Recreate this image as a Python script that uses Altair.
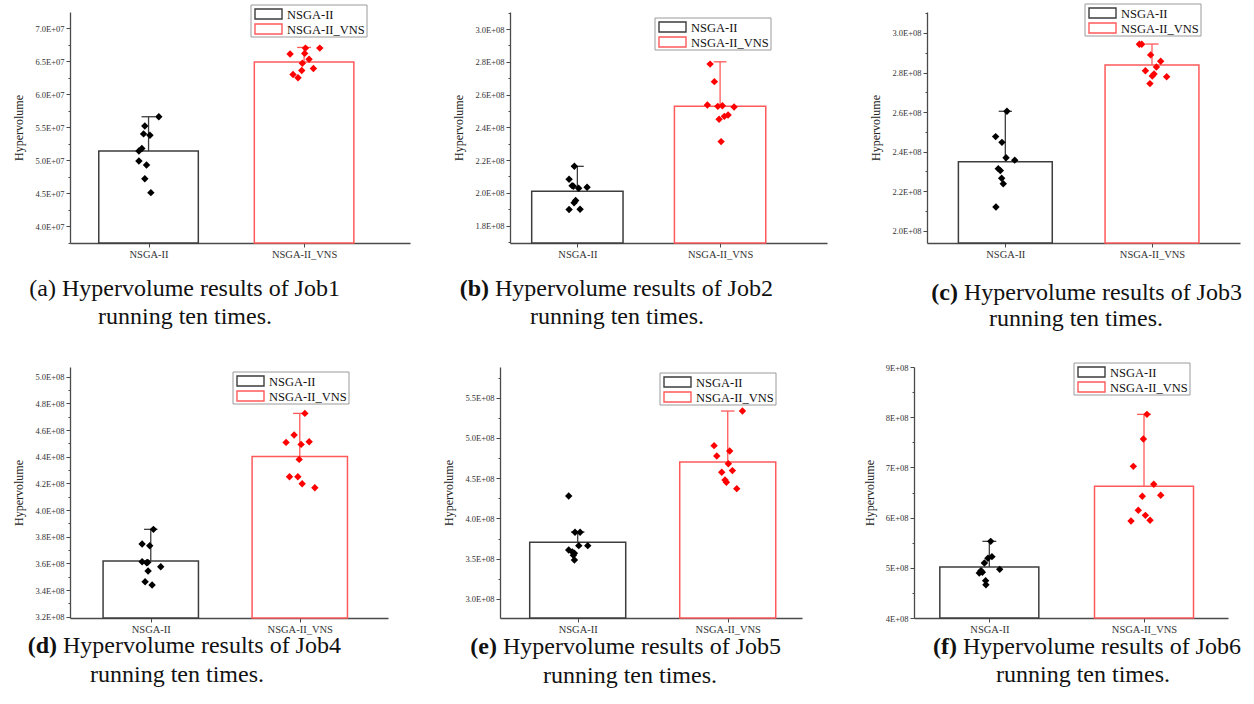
import altair as alt
import pandas as pd

GROUPS = ["NSGA-II", "NSGA-II_VNS"]
SERIF = "Liberation Serif"

# ---------------- data ----------------
# (a) Job1
a_nsga = [5.66e7, 5.52e7, 5.40e7, 5.38e7, 5.18e7, 5.14e7, 4.99e7, 4.93e7, 4.72e7, 4.51e7]
a_vns = [6.70e7, 6.70e7, 6.61e7, 6.62e7, 6.53e7, 6.47e7, 6.39e7, 6.36e7, 6.30e7, 6.25e7]
a_nsga_jit = [0.066, -0.024, -0.032, 0.009, -0.043, -0.062, -0.062, -0.013, -0.024, 0.015]
a_vns_jit = [0.101, 0.009, -0.090, 0.004, 0.032, -0.011, 0.060, -0.015, -0.071, -0.039]
a_bars = [5.14e7, 6.49e7]
a_err = [5.66e7, 6.71e7]
a_ticks = [4.0e7, 4.5e7, 5.0e7, 5.5e7, 6.0e7, 6.5e7, 7.0e7]
a_labels = ["4.0E+07", "4.5E+07", "5.0E+07", "5.5E+07", "6.0E+07", "6.5E+07", "7.0E+07"]

# (b) Job2
b_nsga = [2.162e8, 2.083e8, 2.044e8, 2.040e8, 2.028e8, 2.034e8, 1.953e8, 1.940e8, 1.898e8, 1.900e8]
b_vns = [2.786e8, 2.679e8, 2.536e8, 2.528e8, 2.532e8, 2.524e8, 2.475e8, 2.467e8, 2.449e8, 2.313e8]
b_nsga_jit = [-0.021, -0.058, -0.037, -0.028, 0.009, 0.068, -0.012, -0.023, -0.058, 0.019]
b_vns_jit = [-0.070, -0.040, -0.089, -0.016, 0.016, 0.098, 0.056, 0.030, -0.007, 0.007]
b_bars = [2.010e8, 2.528e8]
b_err = [2.162e8, 2.800e8]
b_ticks = [1.8e8, 2.0e8, 2.2e8, 2.4e8, 2.6e8, 2.8e8, 3.0e8]
b_labels = ["1.8E+08", "2.0E+08", "2.2E+08", "2.4E+08", "2.6E+08", "2.8E+08", "3.0E+08"]

# (c) Job3
c_nsga = [2.604e8, 2.476e8, 2.447e8, 2.369e8, 2.357e8, 2.314e8, 2.304e8, 2.265e8, 2.238e8, 2.120e8]
c_vns = [2.943e8, 2.943e8, 2.889e8, 2.857e8, 2.828e8, 2.809e8, 2.793e8, 2.782e8, 2.779e8, 2.744e8]
c_nsga_jit = [0.011, -0.066, -0.023, 0.005, 0.064, -0.048, -0.034, -0.025, -0.014, -0.064]
c_vns_jit = [-0.086, -0.070, -0.009, 0.059, 0.030, -0.045, 0.014, 0.002, 0.100, -0.014]
c_bars = [2.349e8, 2.838e8]
c_err = [2.604e8, 2.944e8]
c_ticks = [2.0e8, 2.2e8, 2.4e8, 2.6e8, 2.8e8, 3.0e8]
c_labels = ["2.0E+08", "2.2E+08", "2.4E+08", "2.6E+08", "2.8E+08", "3.0E+08"]

# (d) Job4
d_nsga = [3.855e8, 3.745e8, 3.7325e8, 3.6125e8, 3.6075e8, 3.575e8, 3.5425e8, 3.4625e8, 3.4375e8, 3.605e8]
d_vns = [4.725e8, 4.5625e8, 4.5075e8, 4.5125e8, 4.4925e8, 4.38e8, 4.25e8, 4.25e8, 4.1975e8, 4.1675e8]
d_nsga_jit = [0.018, -0.058, -0.007, -0.058, -0.020, 0.067, -0.018, -0.038, 0.009, -0.027]
d_vns_jit = [0.034, -0.038, -0.092, 0.063, 0.009, -0.004, -0.069, -0.013, 0.016, 0.101]
d_bars = [3.6175e8, 4.4025e8]
d_err = [3.855e8, 4.725e8]
d_ticks = [3.2e8, 3.4e8, 3.6e8, 3.8e8, 4.0e8, 4.2e8, 4.4e8, 4.6e8, 4.8e8, 5.0e8]
d_labels = ["3.2E+08", "3.4E+08", "3.6E+08", "3.8E+08", "4.0E+08", "4.2E+08", "4.4E+08",
            "4.6E+08", "4.8E+08", "5.0E+08"]

# (e) Job5
e_nsga = [4.279e8, 3.828e8, 3.828e8, 3.662e8, 3.662e8, 3.608e8, 3.584e8, 3.567e8, 3.542e8, 3.484e8]
e_vns = [5.334e8, 4.904e8, 4.838e8, 4.776e8, 4.680e8, 4.594e8, 4.573e8, 4.478e8, 4.449e8, 4.370e8]
e_nsga_jit = [-0.060, -0.018, 0.016, 0.007, 0.067, -0.060, -0.036, -0.022, -0.029, -0.022]
e_vns_jit = [0.098, -0.091, 0.013, -0.073, 0.004, 0.031, -0.040, -0.018, -0.009, 0.060]
e_bars = [3.704e8, 4.701e8]
e_err = [3.832e8, 5.334e8]
e_ticks = [3.0e8, 3.5e8, 4.0e8, 4.5e8, 5.0e8, 5.5e8]
e_labels = ["3.0E+08", "3.5E+08", "4.0E+08", "4.5E+08", "5.0E+08", "5.5E+08"]

# (f) Job6
f_nsga = [5.527e8, 5.222e8, 5.189e8, 5.096e8, 4.969e8, 4.910e8, 4.896e8, 4.744e8, 4.664e8, 4.940e8]
f_vns = [8.057e8, 7.566e8, 7.021e8, 6.663e8, 6.444e8, 6.424e8, 6.145e8, 6.045e8, 5.946e8, 5.932e8]
f_nsga_jit = [0.009, 0.017, -0.009, -0.032, 0.067, -0.045, -0.065, -0.024, -0.022, -0.054]
f_vns_jit = [0.019, -0.004, -0.069, 0.063, 0.108, -0.011, -0.037, 0.009, 0.039, -0.084]
f_bars = [5.016e8, 6.623e8]
f_err = [5.527e8, 8.057e8]
f_ticks = [4e8, 5e8, 6e8, 7e8, 8e8, 9e8]
f_labels = ["4E+08", "5E+08", "6E+08", "7E+08", "8E+08", "9E+08"]

caption_tags = ["(a)", "(b)", "(c)", "(d)", "(e)", "(f)"]
caption_titles = ["Hypervolume results of Job1", "Hypervolume results of Job2",
                  "Hypervolume results of Job3", "Hypervolume results of Job4",
                  "Hypervolume results of Job5", "Hypervolume results of Job6"]
caption_line2 = "running ten times."
y_title = "Hypervolume"

# ---------------- layout (not data) ----------------
layout = {
    "a": dict(w=340, h=231, xdom=[0.495, 2.681], ydom=[3.747e7, 7.247e7], lx=181, ly=-7,
              cx=-8, cy1=284, c2x=115, cy2=312, bold=False),
    "b": dict(w=317, h=231, xdom=[0.528, 2.749], ydom=[1.694e8, 3.104e8], lx=145, ly=6,
              cx=-15, cy1=284, c2x=107, cy2=312, bold=True),
    "c": dict(w=313, h=231, xdom=[0.466, 2.600], ydom=[1.938e8, 3.106e8], lx=158, ly=-8,
              cx=37, cy1=288, c2x=149, cy2=314, bold=True),
    "d": dict(w=318, h=251, xdom=[0.458, 2.592], ydom=[3.19e8, 5.073e8], lx=163, ly=5,
              cx=-7, cy1=286, c2x=107, cy2=315, bold=True),
    "e": dict(w=302, h=251, xdom=[0.482, 2.495], ydom=[2.763e8, 5.881e8], lx=160, ly=6,
              cx=3, cy1=287, c2x=130, cy2=316, bold=True),
    "f": dict(w=314, h=251, xdom=[0.513, 2.543], ydom=[4.0e8, 9.0e8], lx=160, ly=-4,
              cx=49, cy1=287, c2x=169, cy2=315, bold=True),
}

STROKE_RANGE = ["#3d3d3d", "#ff5a5a"]
FILL_RANGE = ["#000000", "#ff0000"]
AXIS_COLOR = "#4a4a4a"
LEG_W, LEG_H = 116, 32


def make_legend(L):
    one = alt.Chart(pd.DataFrame({"g0": [GROUPS[0]], "g1": [GROUPS[1]]}))
    lx, ly = L["lx"], L["ly"]
    layers = [
        one.mark_rect(fill="white", stroke="#9a9a9a", strokeWidth=1).encode(
            x=alt.value(lx), x2=alt.value(lx + LEG_W), y=alt.value(ly), y2=alt.value(ly + LEG_H)),
    ]
    for i in range(2):
        cy = ly + 9 + 15 * i
        layers.append(one.mark_rect(fill="white", stroke=STROKE_RANGE[i], strokeWidth=1.4).encode(
            x=alt.value(lx + 4), x2=alt.value(lx + 31),
            y=alt.value(cy - 5), y2=alt.value(cy + 5)))
        layers.append(one.mark_text(align="left", baseline="middle", font=SERIF, fontSize=12.5,
                                    color="#111").encode(
            text=f"g{i}:N", x=alt.value(lx + 36), y=alt.value(cy + 0.5)))
    return layers


def make_panel(key, idx, nsga, vns, nsga_j, vns_j, bars, err, ticks, labels):
    L = layout[key]
    majors = [int(round(v)) for v in ticks]
    minors = [int(round((majors[i] + majors[i + 1]) / 2)) for i in range(len(majors) - 1)]
    step = majors[1] - majors[0]
    if majors[-1] + step / 2 <= L["ydom"][1]:
        minors.append(int(round(majors[-1] + step / 2)))
    if majors[0] - step / 2 >= L["ydom"][0]:
        minors.append(int(round(majors[0] - step / 2)))
    all_ticks = sorted(majors + minors)

    expr = "''"
    for v, lab in reversed(list(zip(majors, labels))):
        expr = f"abs(datum.value - {v}) < 1 ? '{lab}' : ({expr})"
    major_test = " || ".join(f"abs(datum.value - {v}) < 1" for v in majors)

    xs = alt.Scale(domain=L["xdom"], nice=False, zero=False)
    ys = alt.Scale(domain=L["ydom"], nice=False, zero=False)

    xaxis = alt.Axis(values=[1, 2], labelExpr="datum.value == 1 ? 'NSGA-II' : 'NSGA-II_VNS'",
                     title=None, grid=False, tickSize=4, tickCount=10, tickColor=AXIS_COLOR,
                     domainColor=AXIS_COLOR, domainWidth=1.3, labelFont=SERIF,
                     labelFontSize=10.5, labelColor="#333", labelPadding=2, labelFlush=False)
    yaxis = alt.Axis(values=all_ticks, tickCount=len(all_ticks) + 5, labelExpr=expr,
                     title=y_title, grid=False,
                     tickSize={"condition": {"test": major_test, "value": 4}, "value": 2},
                     tickColor=AXIS_COLOR, domainColor=AXIS_COLOR, domainWidth=1.3,
                     labelFont=SERIF, labelFontSize=8.5, labelColor="#333", labelPadding=2,
                     labelOverlap=False, labelFlush=False, labelBound=False, titleFont=SERIF,
                     titleFontSize=12, titleFontWeight="normal", titleColor="#222",
                     titlePadding=9)

    stroke_scale = alt.Scale(domain=GROUPS, range=STROKE_RANGE)
    fill_scale = alt.Scale(domain=GROUPS, range=FILL_RANGE)

    summ = pd.DataFrame({"group": GROUPS, "mean": bars, "top": err, "pos": [1, 2]})
    pts = pd.DataFrame({
        "group": [GROUPS[0]] * len(nsga) + [GROUPS[1]] * len(vns),
        "value": nsga + vns,
        "jitter": nsga_j + vns_j,
        "pos": [1] * len(nsga) + [2] * len(vns),
    })

    base = alt.Chart(summ)
    bar = base.transform_calculate(
        x0="datum.pos - 0.32", x1="datum.pos + 0.32"
    ).mark_bar(fill="white", strokeWidth=1.5).encode(
        x=alt.X("x0:Q", scale=xs, axis=xaxis),
        x2="x1:Q",
        y=alt.Y("mean:Q", scale=ys, axis=yaxis),
        y2=alt.datum(L["ydom"][0]),
        stroke=alt.Stroke("group:N", scale=stroke_scale, legend=None),
    )
    err_line = base.mark_rule(strokeWidth=1.3).encode(
        x=alt.X("pos:Q", scale=xs),
        y=alt.Y("mean:Q", scale=ys),
        y2="top:Q",
        stroke=alt.Stroke("group:N", scale=stroke_scale, legend=None),
    )
    cap = base.transform_calculate(
        c0="datum.pos - 0.045", c1="datum.pos + 0.045"
    ).mark_rule(strokeWidth=1.3).encode(
        x=alt.X("c0:Q", scale=xs),
        x2="c1:Q",
        y=alt.Y("top:Q", scale=ys),
        stroke=alt.Stroke("group:N", scale=stroke_scale, legend=None),
    )
    points = alt.Chart(pts).transform_calculate(
        px="datum.pos + datum.jitter"
    ).mark_point(shape="diamond", filled=True, size=55, opacity=1).encode(
        x=alt.X("px:Q", scale=xs),
        y=alt.Y("value:Q", scale=ys),
        fill=alt.Fill("group:N", scale=fill_scale, legend=None),
    )

    cap_df = pd.DataFrame({"tag": [caption_tags[idx]], "title": [caption_titles[idx]],
                           "line2": [caption_line2]})
    cbase = alt.Chart(cap_df)
    tag = cbase.mark_text(align="right", baseline="alphabetic", font=SERIF, fontSize=24,
                          fontWeight="bold" if L["bold"] else "normal", color="#111").encode(
        text="tag:N", x=alt.value(L["cx"] - 6), y=alt.value(L["cy1"]))
    title1 = cbase.mark_text(align="left", baseline="alphabetic", font=SERIF, fontSize=24,
                             color="#111").encode(
        text="title:N", x=alt.value(L["cx"]), y=alt.value(L["cy1"]))
    title2 = cbase.mark_text(align="center", baseline="alphabetic", font=SERIF, fontSize=24,
                             color="#111").encode(
        text="line2:N", x=alt.value(L["c2x"]), y=alt.value(L["cy2"]))

    return alt.layer(bar, err_line, cap, points, *make_legend(L), tag, title1, title2).properties(
        width=L["w"], height=L["h"])


pa = make_panel("a", 0, a_nsga, a_vns, a_nsga_jit, a_vns_jit, a_bars, a_err, a_ticks, a_labels)
pb = make_panel("b", 1, b_nsga, b_vns, b_nsga_jit, b_vns_jit, b_bars, b_err, b_ticks, b_labels)
pc = make_panel("c", 2, c_nsga, c_vns, c_nsga_jit, c_vns_jit, c_bars, c_err, c_ticks, c_labels)
pd_ = make_panel("d", 3, d_nsga, d_vns, d_nsga_jit, d_vns_jit, d_bars, d_err, d_ticks, d_labels)
pe = make_panel("e", 4, e_nsga, e_vns, e_nsga_jit, e_vns_jit, e_bars, e_err, e_ticks, e_labels)
pf = make_panel("f", 5, f_nsga, f_vns, f_nsga_jit, f_vns_jit, f_bars, f_err, f_ticks, f_labels)

row1 = alt.hconcat(pa, pb, pc, spacing=100, bounds="flush").resolve_scale(
    stroke="independent", fill="independent")
row2 = alt.hconcat(pd_, pe, pf, spacing=112, bounds="flush").resolve_scale(
    stroke="independent", fill="independent")

chart = alt.vconcat(row1, row2, spacing=30).resolve_scale(
    stroke="independent", fill="independent").properties(
    padding={"left": 12, "top": 3, "right": 5, "bottom": 5}, background="white"
).configure_view(stroke="transparent")

chart.save("out.html", embed_options={"renderer": "svg", "actions": False})
